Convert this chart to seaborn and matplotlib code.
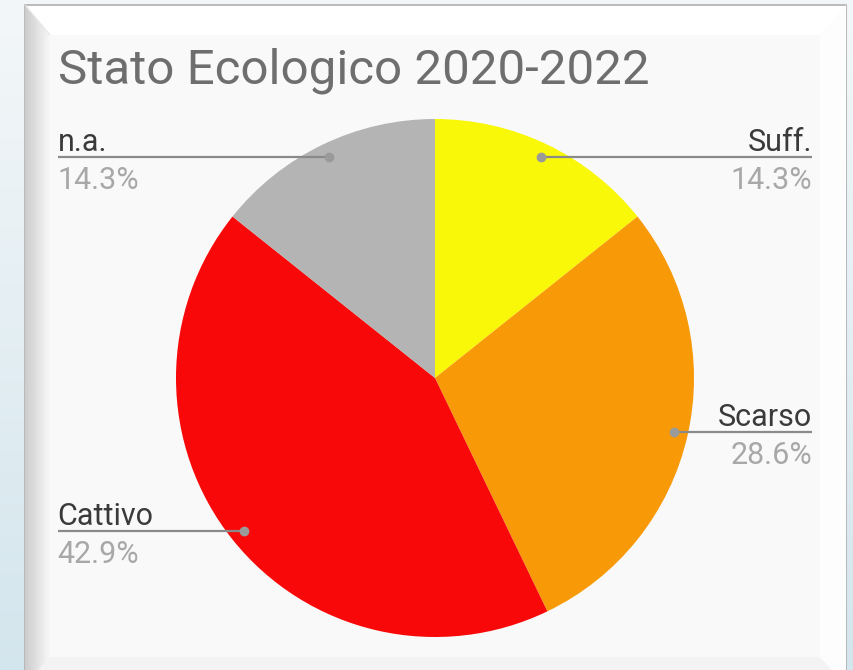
import numpy as np
import matplotlib
matplotlib.use("Agg")
import matplotlib.pyplot as plt
import matplotlib.transforms as mtransforms
from matplotlib.patches import Rectangle, Polygon
import seaborn as sns

# Chart data
title = "Stato Ecologico 2020-2022"
categories = ["Suff.", "Scarso", "Cattivo", "n.a."]
values = [1, 2, 3, 1]
colors = ["#f8f808", "#f89a08", "#f80808", "#b4b4b4"]

sns.set_theme(style="white")
plt.rcParams["font.family"] = ["Roboto", "DejaVu Sans"]

W, H = 854, 670
fig = plt.figure(figsize=(W / 100, H / 100), dpi=100)

# ---- background and picture frame (pixel coordinates) ----
bg = fig.add_axes([0, 0, 1, 1])
bg.set_xlim(0, W)
bg.set_ylim(H, 0)
bg.axis("off")

grad = np.linspace(0, 1, 256)[:, None]
top = np.array([0.955, 0.968, 0.975])
bot = np.array([0.83, 0.90, 0.93])
bg_img = top[None, None, :] * (1 - grad[..., None]) + bot[None, None, :] * grad[..., None]
bg.imshow(bg_img, extent=(0, W, H, 0), aspect="auto", zorder=0)

# white frame
bg.add_patch(Rectangle((25, 5), 821, 680, facecolor="white",
                       edgecolor="#b0b0b0", linewidth=1.2, zorder=1))
# left bevel with horizontal shading
left_bevel = Polygon([(25, 5), (50, 35), (50, 657), (25, 685)], closed=True,
                     facecolor="none", edgecolor="none", zorder=2)
bg.add_patch(left_bevel)
shade = np.linspace(0.80, 0.97, 64)[None, :]
im = bg.imshow(np.repeat(shade, 2, axis=0), cmap="gray", vmin=0, vmax=1,
               extent=(25, 50, H, 5), aspect="auto", zorder=2)
im.set_clip_path(left_bevel)
# bottom bevel
bottom_bevel = Polygon([(50, 657), (820, 657), (846, 685), (25, 685)], closed=True,
                       facecolor="#f3f3f3", edgecolor="none", zorder=2)
bg.add_patch(bottom_bevel)
# right bevel
bg.add_patch(Polygon([(820, 35), (846, 5), (846, 685), (820, 657)], closed=True,
                     facecolor="#fdfdfd", edgecolor="none", zorder=2))
# inner chart panel
bg.add_patch(Rectangle((50, 35), 770, 622, facecolor="#f9f9f9",
                       edgecolor="none", zorder=3))
bg.plot([25, 50], [5, 35], color="#e6e6e6", lw=0.8, zorder=3)

# title
bg.text(58, 83, title, fontsize=35.5, color="#6e6e6e", ha="left",
        va="baseline", zorder=5)

# ---- pie ----
cx, cy, r = 435, 378, 259
ax = fig.add_axes([(cx - r) / W, (H - cy - r) / H, 2 * r / W, 2 * r / H])
ax.patch.set_alpha(0)

wedges, _ = ax.pie(values, colors=colors, startangle=90, counterclock=False,
                   radius=1, wedgeprops=dict(linewidth=0))
ax.set_xlim(-1, 1)
ax.set_ylim(-1, 1)
ax.set_aspect("equal")
ax.axis("off")

total = sum(values)
label_x = 1.457
name_off = mtransforms.offset_copy(ax.transData, fig=fig, x=0, y=6, units="dots")
pct_off = mtransforms.offset_copy(ax.transData, fig=fig, x=0, y=-9, units="dots")

for w, name, v in zip(wedges, categories, values):
    mid = np.deg2rad((w.theta1 + w.theta2) / 2)
    px, py = 0.945 * np.cos(mid), 0.945 * np.sin(mid)
    side = -1 if px < 0 else 1
    lx = side * label_x
    ax.plot([px, lx], [py, py], color="#8a8a8a", lw=1.6, clip_on=False,
            solid_capstyle="butt", zorder=4)
    ax.plot([px], [py], marker="o", ms=6, color="#9a9a9a", mec="#9a9a9a",
            clip_on=False, zorder=5)
    ha = "left" if side < 0 else "right"
    ax.text(lx, py, name, transform=name_off, ha=ha, va="baseline",
            fontsize=22, color="#3a3a3a", clip_on=False)
    ax.text(lx, py, f"{100 * v / total:.1f}%", transform=pct_off, ha=ha,
            va="top", fontsize=22, color="#a8a8a8", clip_on=False)

fig.savefig("out.png", dpi=100)
